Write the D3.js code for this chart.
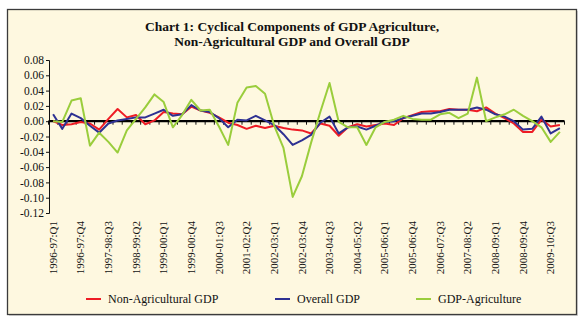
<!DOCTYPE html>
<html>
<head>
<meta charset="utf-8">
<script src="https://cdn.jsdelivr.net/npm/d3@7"></script>
<style>
  html, body { margin: 0; padding: 0; background: #ffffff; }
  svg { display: block; }
  text { font-family: "Liberation Serif", "Times New Roman", serif; fill: #111; }
</style>
</head>
<body>
<svg id="chart" width="584" height="326"></svg>
<script>
// Fiscal years and quarters that make up the category axis
const fiscalYears = ["1996-97","1997-98","1998-99","1999-00","2000-01","2001-02","2002-03",
                     "2003-04","2004-05","2005-06","2006-07","2007-08","2008-09","2009-10"];
const quarters = ["Q1","Q2","Q3","Q4"];
const categories = fiscalYears.flatMap(fy => quarters.map(q => fy + ":" + q));

// Cyclical components (deviation from trend)
const nonAgriGDP = [
  0.000,-0.005,-0.004,-0.001,-0.003,-0.011, 0.003, 0.016, 0.005, 0.008,
 -0.004, 0.001, 0.012, 0.010, 0.009, 0.019, 0.014, 0.011, 0.005,-0.002,
 -0.005,-0.010,-0.006,-0.009,-0.006,-0.009,-0.011,-0.012,-0.016,-0.003,
 -0.006,-0.019,-0.008,-0.004,-0.007,-0.005,-0.003,-0.005, 0.004, 0.008,
  0.012, 0.013, 0.013, 0.016, 0.015, 0.015, 0.013, 0.018, 0.010, 0.004,
 -0.003,-0.014,-0.014, 0.002,-0.007,-0.005
];
const overallGDP = [
  0.009,-0.010, 0.010, 0.004,-0.006,-0.015,-0.003, 0.001, 0.003, 0.005,
  0.005, 0.010, 0.015, 0.007, 0.009, 0.021, 0.014, 0.012, 0.004,-0.008,
  0.002, 0.001, 0.007, 0.001,-0.005,-0.017,-0.031,-0.025,-0.018,-0.002,
  0.006,-0.016,-0.008,-0.007,-0.011,-0.006,-0.001, 0.000, 0.004, 0.007,
  0.010, 0.010, 0.012, 0.015, 0.015, 0.015, 0.018, 0.015, 0.009, 0.006,
  0.000,-0.011,-0.010, 0.006,-0.016,-0.009
];
const agriGDP = [
  0.000,-0.001, 0.027, 0.030,-0.032,-0.015,-0.027,-0.041,-0.012, 0.003,
  0.018, 0.035, 0.025,-0.008, 0.008, 0.028, 0.014, 0.015,-0.007,-0.031,
  0.024, 0.044, 0.046, 0.036,-0.006,-0.035,-0.099,-0.072,-0.028, 0.012,
  0.050,-0.001,-0.008,-0.008,-0.031,-0.008,-0.001, 0.002, 0.007, 0.003,
  0.002, 0.002, 0.009, 0.011, 0.004, 0.010, 0.057, 0.000, 0.005, 0.009,
  0.015, 0.007, 0.000,-0.008,-0.027,-0.014
];

const yTicks = [0.08, 0.06, 0.04, 0.02, 0.00, -0.02, -0.04, -0.06, -0.08, -0.10, -0.12];
const labelEvery = 3;

const series = [
  { name: "Non-Agricultural GDP", values: nonAgriGDP, color: "#ee1c25" },
  { name: "Overall GDP",          values: overallGDP, color: "#2e3192" },
  { name: "GDP-Agriculture",      values: agriGDP,    color: "#9acd3c" }
];

const svg = d3.select("#chart");

// Outer panel
svg.append("rect")
  .attr("x", 9).attr("y", 11).attr("width", 569).attr("height", 305)
  .attr("fill", "#d8d8d8");
svg.append("rect")
  .attr("x", 7.5).attr("y", 9.5).attr("width", 569).attr("height", 305)
  .attr("fill", "#fef8e0").attr("stroke", "#3b3b3b").attr("stroke-width", 1.3);

// Title
const title = svg.append("text")
  .attr("x", 292).attr("text-anchor", "middle")
  .style("font-weight", "bold").style("font-size", "13.5px");
title.append("tspan").attr("x", 292).attr("y", 30.5).text("Chart 1: Cyclical Components of GDP Agriculture,");
title.append("tspan").attr("x", 292).attr("y", 45.5).text("Non-Agricultural GDP and Overall GDP");

// Scales
const x = d3.scaleBand().domain(categories).range([48.5, 564.5]).paddingInner(0).paddingOuter(0);
const y = d3.scaleLinear().domain([-0.12, 0.08]).range([213, 60]);
const cx = c => x(c) + x.bandwidth() / 2;

// Value axis
const yAxis = d3.axisLeft(y).tickValues(yTicks).tickSize(3).tickPadding(2)
  .tickFormat(d3.format(".2f"));
const gy = svg.append("g").attr("transform", "translate(49,0)").call(yAxis);
gy.select(".domain").attr("stroke", "#111").attr("stroke-width", 1);
gy.selectAll(".tick line").attr("stroke", "#111");
gy.selectAll(".tick text")
  .style("font-size", "11.5px").attr("fill", "#111")
  .text(d => d3.format(".2f")(d).replace("−", "-"));

// Category axis crossing at zero, tick marks between categories
const zeroY = y(0);
svg.append("g").selectAll("line.qtick")
  .data(categories.concat([null]))
  .join("line")
  .attr("x1", (c, i) => i < categories.length ? x(c) : x.range()[1])
  .attr("x2", (c, i) => i < categories.length ? x(c) : x.range()[1])
  .attr("y1", zeroY).attr("y2", zeroY + 3.5)
  .attr("stroke", "#111").attr("stroke-width", 1);
svg.append("line")
  .attr("x1", x.range()[0]).attr("x2", x.range()[1])
  .attr("y1", zeroY).attr("y2", zeroY)
  .attr("stroke", "#000").attr("stroke-width", 2.2);

// Category labels at the bottom, rotated
svg.append("g").selectAll("text.cat")
  .data(categories.filter((c, i) => i % labelEvery === 0))
  .join("text")
  .attr("transform", c => `translate(${cx(c)},221) rotate(-90)`)
  .attr("text-anchor", "end")
  .attr("dy", "0.33em")
  .style("font-size", "11px")
  .text(c => c);

// Series lines
const line = d3.line()
  .x((d, i) => cx(categories[i]))
  .y(d => y(d));
svg.append("g").selectAll("path.series")
  .data(series)
  .join("path")
  .attr("fill", "none")
  .attr("stroke", s => s.color)
  .attr("stroke-width", 2)
  .attr("stroke-linejoin", "round")
  .attr("d", s => line(s.values));

// Legend
const legendItems = [
  { s: series[0], x: 86 },
  { s: series[1], x: 275 },
  { s: series[2], x: 416 }
];
const lg = svg.append("g").selectAll("g").data(legendItems).join("g")
  .attr("transform", d => `translate(${d.x},299)`);
lg.append("line").attr("x1", 0).attr("x2", 15).attr("y1", 0).attr("y2", 0)
  .attr("stroke", d => d.s.color).attr("stroke-width", 2);
lg.append("text").attr("x", 22).attr("y", 4)
  .style("font-size", "12px").text(d => d.s.name);
</script>
</body>
</html>
